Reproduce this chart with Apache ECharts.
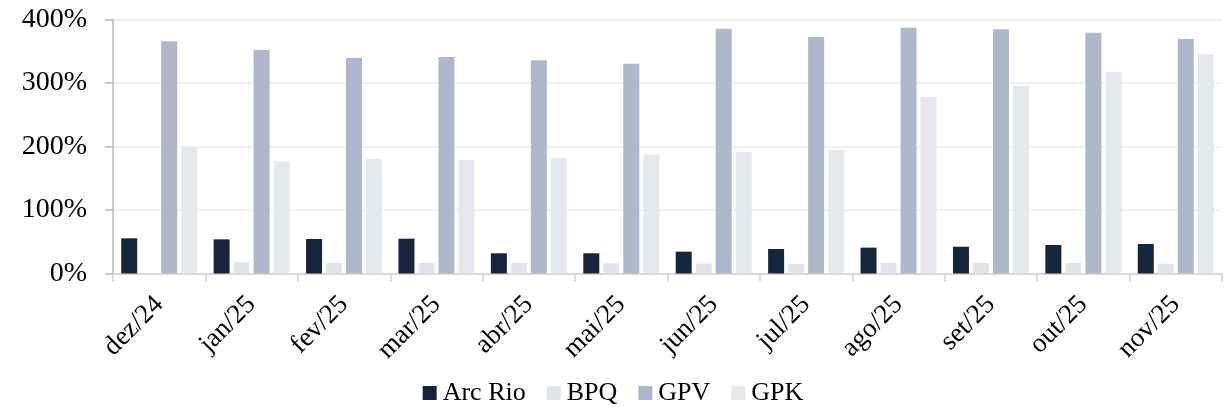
<!DOCTYPE html>
<html>
<head>
<meta charset="utf-8">
<script src="https://cdn.jsdelivr.net/npm/echarts@6/dist/echarts.min.js"></script>
<style>
    html, body { margin: 0; padding: 0; background: #ffffff; }
    #chart { width: 1226px; height: 410px; }
</style>
</head>
<body>
<div id="chart"></div>
<script>
// 月份
var months = ['dez/24', 'jan/25', 'fev/25', 'mar/25', 'abr/25', 'mai/25', 'jun/25', 'jul/25', 'ago/25', 'set/25', 'out/25', 'nov/25'];
// 各系列数值（%）
var arcRio = [55.4, 53.8, 54.3, 54.8, 31.8, 31.8, 34.4, 38.6, 40.7, 42.2, 44.9, 46.5];
var bpq = [0, 17.6, 16.5, 16.5, 16.5, 16.0, 15.5, 15.0, 16.5, 16.5, 16.5, 15.5];
var gpv = [365.7, 352.0, 339.4, 341.0, 335.7, 330.4, 385.6, 372.4, 387.1, 384.5, 379.3, 369.3];
var gpk = [198.7, 176.7, 180.3, 178.7, 181.4, 187.1, 191.8, 194.0, 278.0, 295.3, 317.3, 345.2];
// 纵轴刻度
var yTicks = [0, 100, 200, 300, 400];

var font = '"Liberation Serif", "Times New Roman", serif';

var makeSeries = function(name, data, color){
    return {
        name: name,
        type: 'bar',
        data: data,
        barWidth: 16,
        barGap: '25%',
        itemStyle: { color: color },
        emphasis: { disabled: true }
    };
};

var myChart = echarts.init(document.getElementById('chart'));
var option = {
    animation: false,
    grid: { left: 113, right: 4, top: 19.5, bottom: 136.5 },
    legend: {
        bottom: -1,
        left: 'center',
        itemWidth: 14,
        itemHeight: 14,
        itemGap: 21,
        icon: 'rect',
        textStyle: { fontFamily: font, fontSize: 26, color: '#000000', padding: [0, 0, 0, 1] },
        data: ['Arc Rio', 'BPQ', 'GPV', 'GPK']
    },
    xAxis: {
        type: 'category',
        data: months,
        axisLine: { lineStyle: { color: '#d0d0d0', width: 1.5 } },
        axisTick: { show: true, length: 8, lineStyle: { color: '#d0d0d0', width: 1.5 } },
        axisLabel: {
            rotate: 45,
            interval: 0,
            margin: 27,
            fontFamily: font,
            fontSize: 27,
            color: '#000000'
        }
    },
    yAxis: {
        type: 'value',
        min: yTicks[0],
        max: yTicks[yTicks.length - 1],
        interval: 100,
        axisLine: { show: true, lineStyle: { color: '#b8b8b8', width: 1.5 } },
        axisTick: { show: true, length: 8, lineStyle: { color: '#b8b8b8', width: 1.5 } },
        splitLine: { lineStyle: { color: '#ededed', width: 1.5 } },
        axisLabel: {
            margin: 26,
            fontFamily: font,
            fontSize: 28,
            color: '#000000',
            formatter: '{value}%'
        }
    },
    series: [
        makeSeries('Arc Rio', arcRio, '#14253d'),
        makeSeries('BPQ', bpq, '#e1e4eb'),
        makeSeries('GPV', gpv, '#adb8ca'),
        makeSeries('GPK', gpk, '#e5e8ed')
    ]
};
myChart.setOption(option);
</script>
</body>
</html>
